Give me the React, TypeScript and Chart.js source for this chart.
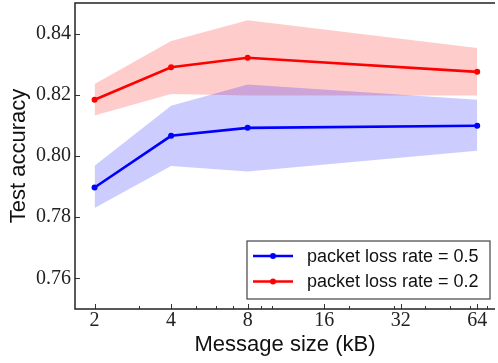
import React, { useEffect, useRef } from 'react';
import { Chart, registerables } from 'chart.js';
Chart.register(...registerables);

const sizes = [2, 4, 8, 64];
const acc05 = [0.7897, 0.8066, 0.8092, 0.8099];
const acc05Upper = [0.7968, 0.8164, 0.8234, 0.8184];
const acc05Lower = [0.783, 0.7967, 0.7949, 0.8017];
const acc02 = [0.8184, 0.829, 0.8321, 0.8275];
const acc02Upper = [0.8235, 0.8376, 0.8444, 0.8353];
const acc02Lower = [0.8132, 0.8203, 0.8198, 0.8198];
const xMajorTicks = [2, 4, 8, 16, 32, 64];
const xMinorTicks = [3, 5, 6, 7, 9, 10, 20, 30, 40, 50, 60, 70];
const yTicks = [0.76, 0.78, 0.8, 0.82, 0.84];
const seriesLabels = ['packet loss rate = 0.5', 'packet loss rate = 0.2'];

const W = 498;
const H = 363;

const pts = (ys: number[]) => sizes.map((x, i) => ({ x, y: ys[i] }));

const decorPlugin = {
  id: 'decor',
  afterDraw(chart: any) {
    const { ctx, chartArea: a, scales } = chart;
    const xs = scales.x;
    const ys = scales.y;
    ctx.save();
    // ticks (inward)
    ctx.strokeStyle = '#333';
    ctx.lineWidth = 1;
    ctx.beginPath();
    xMajorTicks.forEach((v) => {
      const px = Math.round(xs.getPixelForValue(v)) + 0.5;
      ctx.moveTo(px, a.bottom);
      ctx.lineTo(px, a.bottom - 5);
    });
    xMinorTicks.forEach((v) => {
      const px = Math.round(xs.getPixelForValue(v)) + 0.5;
      if (px > a.left && px < a.right) {
        ctx.moveTo(px, a.bottom);
        ctx.lineTo(px, a.bottom - 3);
      }
    });
    yTicks.forEach((v) => {
      const py = Math.round(ys.getPixelForValue(v)) + 0.5;
      ctx.moveTo(a.left, py);
      ctx.lineTo(a.left + 5, py);
    });
    ctx.stroke();
    // spines
    ctx.strokeStyle = '#222';
    ctx.lineWidth = 1.5;
    ctx.beginPath();
    ctx.moveTo(a.right, a.top);
    ctx.lineTo(a.left, a.top);
    ctx.lineTo(a.left, a.bottom);
    ctx.lineTo(a.right, a.bottom);
    ctx.stroke();
    // legend
    const bx = 247, by = 241, bw = 243, bh = 58;
    ctx.fillStyle = 'rgba(255,255,255,0.9)';
    ctx.fillRect(bx, by, bw, bh);
    ctx.strokeStyle = '#444';
    ctx.lineWidth = 1.2;
    ctx.strokeRect(bx, by, bw, bh);
    const rows = [256, 281.5];
    [0, 1].forEach((di, i) => {
      const ds = chart.data.datasets[di];
      const y = rows[i];
      ctx.strokeStyle = ds.borderColor;
      ctx.lineWidth = 2.5;
      ctx.beginPath();
      ctx.moveTo(253, y);
      ctx.lineTo(293, y);
      ctx.stroke();
      ctx.fillStyle = ds.borderColor;
      ctx.beginPath();
      ctx.arc(273, y, 3, 0, Math.PI * 2);
      ctx.fill();
      ctx.fillStyle = '#111';
      ctx.font = '18px "Liberation Sans", Arial, sans-serif';
      ctx.textBaseline = 'middle';
      ctx.textAlign = 'left';
      ctx.fillText(ds.label, 307, y + 1);
    });
    ctx.restore();
  },
};

export default function App() {
  const ref = useRef<HTMLCanvasElement | null>(null);
  useEffect(() => {
    if (!ref.current) return;
    const lineDs = (label: string, data: number[], color: string) => ({
      label,
      data: pts(data),
      borderColor: color,
      backgroundColor: color,
      borderWidth: 2.6,
      pointRadius: 3,
      pointHoverRadius: 3,
      pointBackgroundColor: color,
      pointBorderWidth: 0,
      fill: false,
      tension: 0,
    });
    const bandDs = (data: number[], fill: any, bg: string) => ({
      label: '',
      data: pts(data),
      borderColor: 'rgba(0,0,0,0)',
      borderWidth: 0,
      pointRadius: 0,
      backgroundColor: bg,
      fill,
      tension: 0,
    });
    const chart = new Chart(ref.current, {
      type: 'line',
      data: {
        datasets: [
          lineDs(seriesLabels[0], acc05, '#0000ff'),
          lineDs(seriesLabels[1], acc02, '#ff0000'),
          bandDs(acc05Lower, false, 'rgba(0,0,255,0.2)'),
          bandDs(acc05Upper, '-1', 'rgba(0,0,255,0.2)'),
          bandDs(acc02Lower, false, 'rgba(255,0,0,0.2)'),
          bandDs(acc02Upper, '-1', 'rgba(255,0,0,0.2)'),
        ] as any,
      },
      options: {
        responsive: false,
        animation: false,
        events: [],
        layout: { padding: { top: 3, left: 0, right: 0, bottom: 0 } },
        plugins: { legend: { display: false }, tooltip: { enabled: false } },
        scales: {
          x: {
            type: 'logarithmic',
            min: 1.675,
            max: 75.2,
            grid: { display: false, drawTicks: false },
            border: { display: false },
            afterBuildTicks: (s: any) => {
              s.ticks = xMajorTicks.map((v) => ({ value: v }));
            },
            afterFit: (s: any) => {
              s.height = 54;
              s.paddingLeft = 0;
              s.paddingRight = 0;
            },
            ticks: {
              autoSkip: false,
              maxRotation: 0,
              padding: 0,
              color: '#222',
              font: { family: '"Liberation Serif", "DejaVu Serif", serif', size: 20 },
              callback: (v: any) => String(v),
            },
            title: {
              display: true,
              text: 'Message size (kB)',
              color: '#111',
              font: { family: '"Liberation Sans", Arial, sans-serif', size: 22 },
              padding: { top: 0, bottom: 5 },
            },
          },
          y: {
            type: 'linear',
            min: 0.75,
            max: 0.85,
            grid: { display: false, drawTicks: false },
            border: { display: false },
            afterBuildTicks: (s: any) => {
              s.ticks = yTicks.map((v) => ({ value: v }));
            },
            afterFit: (s: any) => {
              s.width = 75;
              s.paddingTop = 0;
              s.paddingBottom = 0;
            },
            ticks: {
              padding: 4,
              color: '#222',
              font: { family: '"Liberation Serif", "DejaVu Serif", serif', size: 20 },
              callback: (v: any) => Number(v).toFixed(2),
            },
            title: {
              display: true,
              text: 'Test accuracy',
              color: '#111',
              font: { family: '"Liberation Sans", Arial, sans-serif', size: 22 },
              padding: { top: 6, bottom: 0 },
            },
          },
        },
      } as any,
      plugins: [decorPlugin],
    });
    return () => chart.destroy();
  }, []);
  return (
    <div style={{ position: 'fixed', left: 0, top: 0, width: W, height: H, background: '#fff' }}>
      <canvas ref={ref} width={W} height={H} style={{ display: 'block' }} />
    </div>
  );
}
